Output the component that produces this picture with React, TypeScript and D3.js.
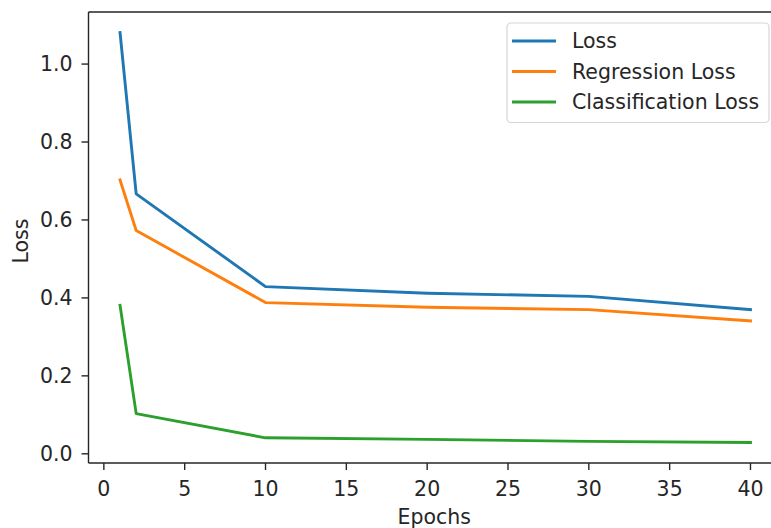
import React from "react";
import * as d3 from "d3";

// Training history: epochs and the three loss curves
const epochs = [1, 2, 10, 20, 30, 40];
const totalLoss = [1.081, 0.667, 0.429, 0.412, 0.404, 0.37];
const regressionLoss = [0.703, 0.573, 0.388, 0.376, 0.37, 0.341];
const classificationLoss = [0.381, 0.103, 0.041, 0.037, 0.032, 0.029];
const seriesNames = ["Loss", "Regression Loss", "Classification Loss"];
const seriesColors = ["#1f77b4", "#ff7f0e", "#2ca02c"];
const xTicks = [0, 5, 10, 15, 20, 25, 30, 35, 40];
const yTicks = [0, 0.2, 0.4, 0.6, 0.8, 1.0];

const W = 771;
const H = 528;
const plot = { left: 88.5, top: 12, right: 782, bottom: 463 };
const FONT = "'DejaVu Sans', sans-serif";
const FS = 20.5;
const TEXT = "#262626";

export default function App() {
  const series = [totalLoss, regressionLoss, classificationLoss];

  // matplotlib-style 5% data margins
  const xMin = d3.min(epochs)!;
  const xMax = d3.max(epochs)!;
  const xPad = (xMax - xMin) * 0.05;
  const x = d3.scaleLinear().domain([xMin - xPad, xMax + xPad]).range([plot.left, plot.right]);

  const allY = series.flat();
  const yMin = d3.min(allY)!;
  const yMax = d3.max(allY)!;
  const yPad = (yMax - yMin) * 0.05;
  const y = d3.scaleLinear().domain([yMin - yPad, yMax + yPad]).range([plot.bottom, plot.top]);

  const line = d3
    .line<number>()
    .x((_, i) => x(epochs[i]))
    .y((d) => y(d));

  const legend = { x: 507, y: 23, w: 262, h: 99.5 };
  const legendRows = [41, 71.5, 102];

  return (
    <svg width={W} height={H} style={{ position: "absolute", left: 0, top: 0, background: "#fff" }}>
      <defs>
        <clipPath id="plot-area">
          <rect x={plot.left} y={plot.top} width={plot.right - plot.left} height={plot.bottom - plot.top} />
        </clipPath>
      </defs>

      {/* curves */}
      <g clipPath="url(#plot-area)">
        {series.map((s, i) => (
          <path
            key={seriesNames[i]}
            d={line(s) ?? ""}
            fill="none"
            stroke={seriesColors[i]}
            strokeWidth={2.9}
            strokeLinejoin="round"
            strokeLinecap="square"
          />
        ))}
      </g>

      {/* spines */}
      <g stroke="#262626" strokeWidth={1.4} fill="none">
        <line x1={plot.left} x2={plot.left} y1={plot.top} y2={plot.bottom} />
        <line x1={plot.left} x2={plot.right} y1={plot.bottom} y2={plot.bottom} />
        <line x1={plot.left} x2={plot.right} y1={plot.top} y2={plot.top} />
        <line x1={plot.right} x2={plot.right} y1={plot.top} y2={plot.bottom} />
      </g>

      {/* axis ticks and labels */}
      <g fontFamily={FONT} fontSize={FS} fill={TEXT}>
        {xTicks.map((t) => (
          <g key={t}>
            <line x1={x(t)} x2={x(t)} y1={plot.bottom} y2={plot.bottom + 7} stroke="#262626" strokeWidth={1.4} />
            <text x={x(t)} y={plot.bottom + 33} textAnchor="middle">
              {t}
            </text>
          </g>
        ))}
        {yTicks.map((t) => (
          <g key={t}>
            <line x1={plot.left - 7} x2={plot.left} y1={y(t)} y2={y(t)} stroke="#262626" strokeWidth={1.4} />
            <text x={plot.left - 16} y={y(t)} dy="0.36em" textAnchor="end">
              {d3.format(".1f")(t)}
            </text>
          </g>
        ))}
        <text x={(plot.left + 782) / 2 - 1} y={524} textAnchor="middle">
          Epochs
        </text>
        <text transform={`translate(28,241) rotate(-90)`} textAnchor="middle">
          Loss
        </text>
      </g>

      {/* legend */}
      <g fontFamily={FONT} fontSize={FS} fill={TEXT}>
        <rect
          x={legend.x}
          y={legend.y}
          width={legend.w}
          height={legend.h}
          rx={4}
          fill="#fff"
          fillOpacity={0.8}
          stroke="#d6d6d6"
          strokeWidth={1.2}
        />
        {seriesNames.map((name, i) => (
          <g key={name}>
            <line
              x1={512}
              x2={556}
              y1={legendRows[i]}
              y2={legendRows[i]}
              stroke={seriesColors[i]}
              strokeWidth={2.9}
            />
            <text x={572} y={legendRows[i]} dy="0.36em">
              {name}
            </text>
          </g>
        ))}
      </g>
    </svg>
  );
}
